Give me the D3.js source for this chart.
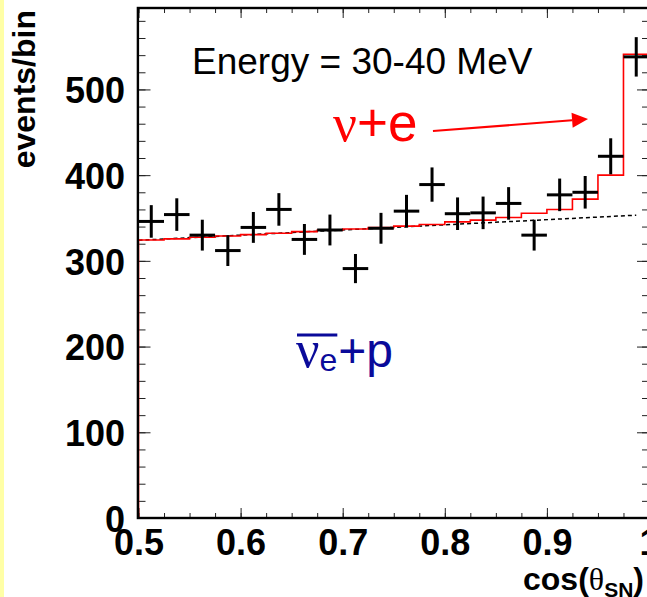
<!DOCTYPE html>
<html>
<head>
<meta charset="utf-8">
<script src="https://cdn.jsdelivr.net/npm/d3@7"></script>
<style>
  body { margin: 0; background: #fff; }
  svg { display: block; }
</style>
</head>
<body>
<div id="chart"></div>
<script>
// bin centres of the cos(theta_SN) histogram (bin width 0.025)
const binCenters = [0.5125, 0.5375, 0.5625, 0.5875, 0.6125, 0.6375, 0.6625, 0.6875, 0.7125, 0.7375,
                    0.7625, 0.7875, 0.8125, 0.8375, 0.8625, 0.8875, 0.9125, 0.9375, 0.9625, 0.9875];
const binWidth = 0.025;

// measured events per bin (crosses)
const counts = [346, 354, 330, 312, 339, 360, 325, 336, 291, 338,
                358, 389, 355, 356, 367, 330, 377, 380, 422, 538];
const countErr = [19, 19, 18, 18, 18, 19, 18, 18, 17, 18,
                  19, 20, 19, 19, 19, 18, 19, 19, 21, 23];

// fitted total (nu+e on top of anti-nu_e+p), red histogram
const fitTotal = [324.4, 325.6, 327.5, 329, 330.6, 332.2, 334.1, 335.7, 337.2, 339,
                  340.5, 342.5, 345.5, 347.5, 350.5, 355.5, 360, 372, 400, 541];

// anti-nu_e + p background, dashed line
const bkgX = [0.5, 0.9875];
const bkgY = [324, 353.3];

const xMajor = [0.5, 0.6, 0.7, 0.8, 0.9, 1.0];
const yMajor = [0, 100, 200, 300, 400, 500];

const W = 647, H = 597;
const sans = "'Liberation Sans', Arial, sans-serif";
const serif = "'Liberation Serif', 'Times New Roman', serif";

const svg = d3.select("#chart").append("svg")
  .attr("width", W).attr("height", H);

// yellow strip on the left edge
svg.append("rect").attr("x", 0).attr("y", 0).attr("width", 4).attr("height", H)
  .attr("fill", "#ffffa6");

const x = d3.scaleLinear().domain([0.5, 1.0]).range([138.5, 649]);
const y = d3.scaleLinear().domain([0, 595]).range([518, 8]);

// ticks on all four sides, pointing inward
function styleTicks(g) {
  g.select(".domain").remove();
  g.selectAll("line").attr("stroke", "#222").attr("stroke-width", 1);
}
const xMinor = d3.range(0.5, 1.0001, 0.025);
const yMinor = d3.range(0, 581, 20);

svg.append("g").attr("transform", `translate(0,${y(0)})`)
  .call(d3.axisBottom(x).tickValues(xMinor).tickSize(-5).tickFormat(""))
  .call(styleTicks);
const xAxis = svg.append("g").attr("transform", `translate(0,${y(0)})`)
  .call(d3.axisBottom(x).tickValues(xMajor).tickSize(-10).tickFormat(d3.format("")))
  .call(styleTicks);
xAxis.selectAll("text")
  .attr("y", 37).attr("dy", null)
  .attr("fill", "#000")
  .style("font-family", sans).style("font-weight", "bold").style("font-size", "36px");

svg.append("g").attr("transform", `translate(0,${y(595)})`)
  .call(d3.axisTop(x).tickValues(xMinor).tickSize(-5).tickFormat(""))
  .call(styleTicks);
svg.append("g").attr("transform", `translate(0,${y(595)})`)
  .call(d3.axisTop(x).tickValues(xMajor).tickSize(-10).tickFormat(""))
  .call(styleTicks);

svg.append("g").attr("transform", `translate(${x(0.5)},0)`)
  .call(d3.axisLeft(y).tickValues(yMinor).tickSize(-7).tickFormat(""))
  .call(styleTicks);
const yAxis = svg.append("g").attr("transform", `translate(${x(0.5)},0)`)
  .call(d3.axisLeft(y).tickValues(yMajor).tickSize(-12).tickFormat(d3.format("")))
  .call(styleTicks);
yAxis.selectAll("text")
  .attr("x", -13.5).attr("dy", "0.37em")
  .attr("fill", "#000")
  .style("font-family", sans).style("font-weight", "bold").style("font-size", "36px");

svg.append("g").attr("transform", `translate(${x(1.0)},0)`)
  .call(d3.axisRight(y).tickValues(yMinor).tickSize(-7).tickFormat(""))
  .call(styleTicks);
svg.append("g").attr("transform", `translate(${x(1.0)},0)`)
  .call(d3.axisRight(y).tickValues(yMajor).tickSize(-12).tickFormat(""))
  .call(styleTicks);

// dashed background line
svg.append("path")
  .datum(bkgX.map((d, i) => [d, bkgY[i]]))
  .attr("fill", "none").attr("stroke", "#000").attr("stroke-width", 1.5)
  .attr("stroke-dasharray", "4,3")
  .attr("d", d3.line().x(d => x(d[0])).y(d => y(d[1])));

// red step histogram of the fit
const steps = [[binCenters[0] - binWidth / 2, 0]];
binCenters.forEach((c, i) => {
  steps.push([c - binWidth / 2, fitTotal[i]]);
  steps.push([c + binWidth / 2, fitTotal[i]]);
});
steps.push([binCenters[binCenters.length - 1] + binWidth / 2, 0]);
svg.append("path")
  .datum(steps)
  .attr("fill", "none").attr("stroke", "#ff0000").attr("stroke-width", 1.6)
  .attr("d", d3.line().x(d => x(d[0])).y(d => y(d[1])));

// frame
svg.append("rect")
  .attr("x", x(0.5) - 0.6).attr("y", y(595))
  .attr("width", x(1.0) - x(0.5)).attr("height", y(0) - y(595))
  .attr("fill", "none").attr("stroke", "#000").attr("stroke-width", 2.4);

// data crosses
const pts = svg.append("g").attr("stroke", "#000").attr("stroke-width", 3);
binCenters.forEach((c, i) => {
  pts.append("line")
    .attr("x1", x(c - binWidth / 2)).attr("x2", x(c + binWidth / 2))
    .attr("y1", y(counts[i])).attr("y2", y(counts[i]));
  pts.append("line")
    .attr("x1", x(c)).attr("x2", x(c))
    .attr("y1", y(counts[i] - countErr[i])).attr("y2", y(counts[i] + countErr[i]));
});

// axis titles
svg.append("text")
  .attr("transform", "translate(35,10) rotate(-90)")
  .attr("text-anchor", "end")
  .style("font-family", sans).style("font-weight", "bold").style("font-size", "32px")
  .text("events/bin");

const xt = svg.append("text").attr("x", 523).attr("y", 590)
  .style("font-family", sans).style("font-weight", "bold").style("font-size", "32px");
xt.append("tspan").text("cos(");
xt.append("tspan").style("font-family", serif).style("font-weight", "normal").text("θ");
xt.append("tspan").attr("dy", 7).style("font-size", "21px").text("SN");
xt.append("tspan").attr("dy", -7).text(")");

// energy label
svg.append("text").attr("x", 192).attr("y", 74)
  .style("font-family", sans).style("font-size", "37px")
  .text("Energy = 30-40 MeV");

// nu + e label and arrow
const ne = svg.append("text").attr("x", 333).attr("y", 141)
  .attr("fill", "#ff0000")
  .style("font-family", sans).style("font-size", "53px");
ne.append("tspan").style("font-family", serif).text("ν");
ne.append("tspan").text("+e");

const a0 = [0.7884, 451.4], a1 = [0.9403, 465.4];
const ax0 = x(a0[0]), ay0 = y(a0[1]), ax1 = x(a1[0]), ay1 = y(a1[1]);
const ang = Math.atan2(ay1 - ay0, ax1 - ax0);
const hl = 16, hw = 7.5;
const bx = ax1 - hl * Math.cos(ang), by = ay1 - hl * Math.sin(ang);
svg.append("line")
  .attr("x1", ax0).attr("y1", ay0).attr("x2", bx).attr("y2", by)
  .attr("stroke", "#ff0000").attr("stroke-width", 2);
svg.append("path")
  .attr("d", `M${ax1},${ay1}L${bx - hw * Math.sin(ang)},${by + hw * Math.cos(ang)}L${bx + hw * Math.sin(ang)},${by - hw * Math.cos(ang)}Z`)
  .attr("fill", "#ff0000");

// anti-nu_e + p label
const blue = "#0a0a9a";
const nuT = svg.append("text").attr("x", 296).attr("y", 367).attr("fill", blue)
  .style("font-family", serif).style("font-size", "52px").text("ν");
const nuW = nuT.node().getComputedTextLength();
const eT = svg.append("text").attr("x", 296 + nuW).attr("y", 371).attr("fill", blue)
  .style("font-family", sans).style("font-size", "32px").text("e");
const eW = eT.node().getComputedTextLength();
svg.append("text").attr("x", 296 + nuW + eW + 1).attr("y", 367).attr("fill", blue)
  .style("font-family", sans).style("font-size", "48px").text("+p");
svg.append("line")
  .attr("x1", 297).attr("x2", 296 + nuW + eW).attr("y1", 335).attr("y2", 335)
  .attr("stroke", blue).attr("stroke-width", 3);
</script>
</body>
</html>
